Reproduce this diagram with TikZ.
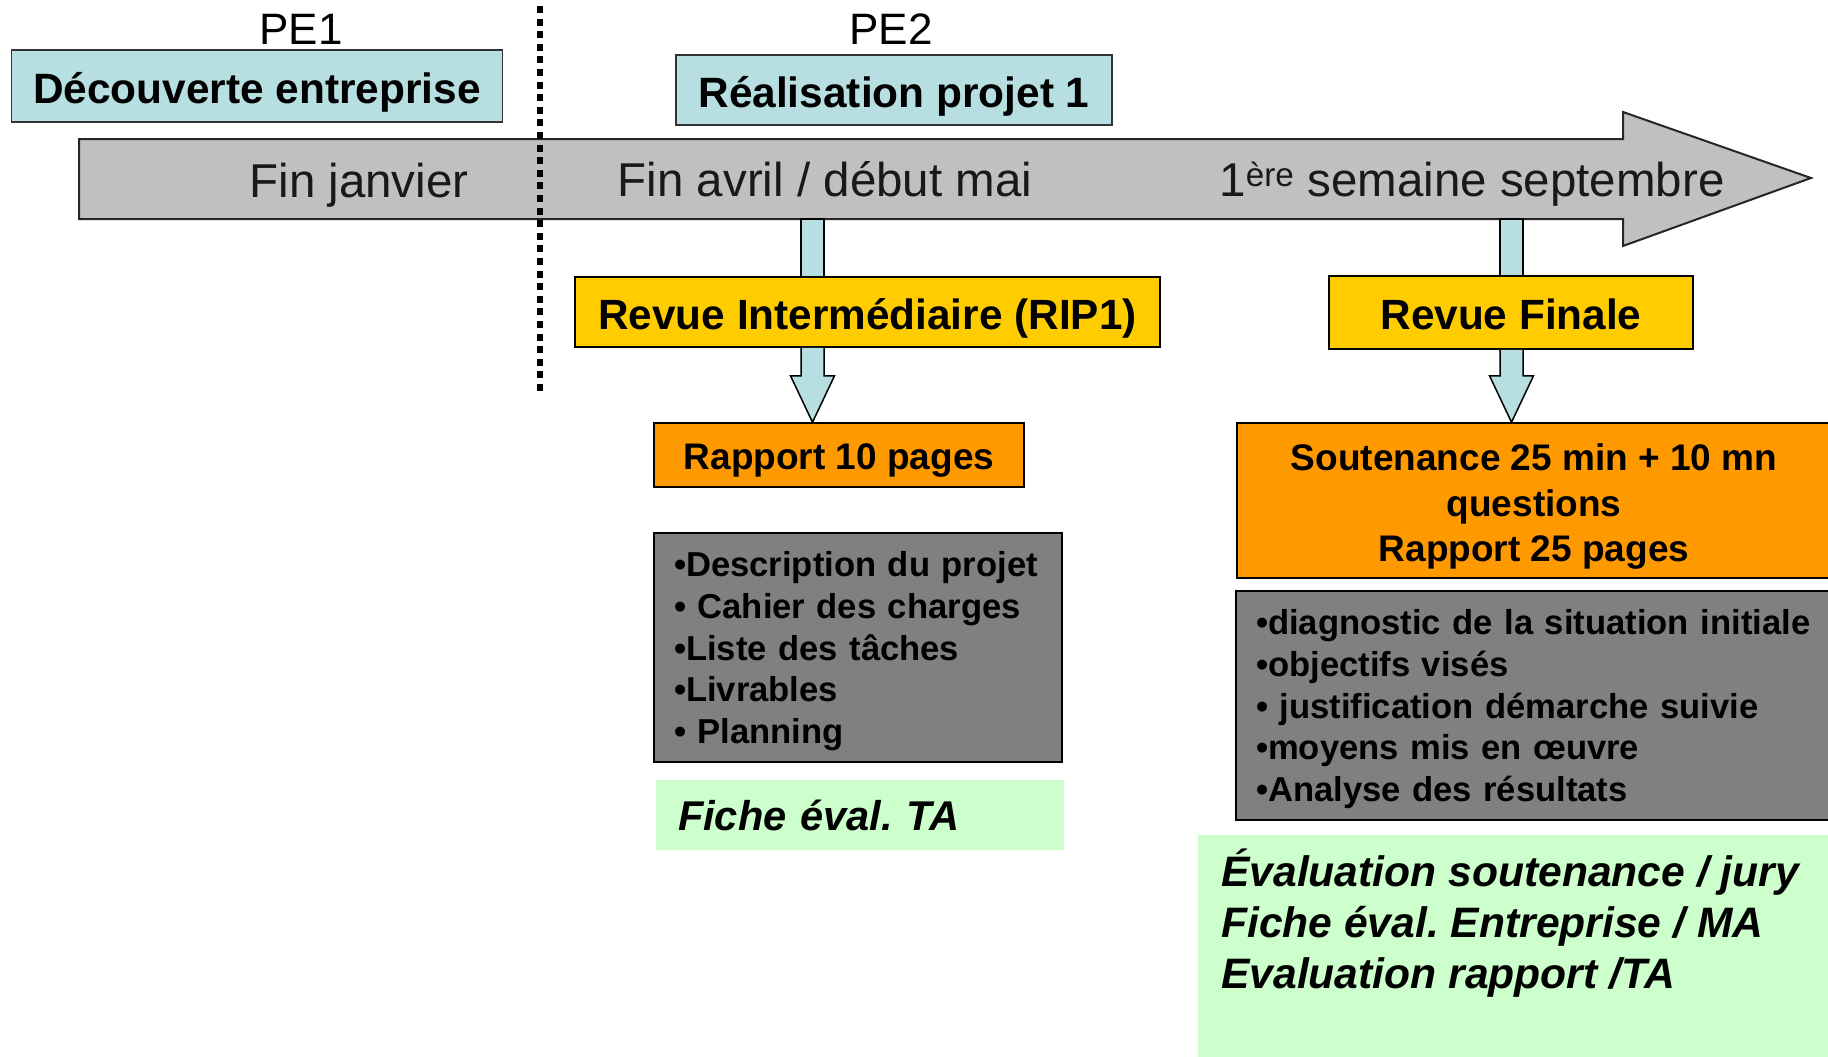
\documentclass[tikz,border=0pt]{standalone}
\usepackage{fontspec}
\setmainfont{Liberation Sans}
\usetikzlibrary{calc}
\definecolor{lblue}{HTML}{B7DEE0}
\definecolor{tlgray}{HTML}{C0C0C0}
\definecolor{ryellow}{HTML}{FFCC00}
\definecolor{rorange}{HTML}{FF9900}
\definecolor{dgray}{HTML}{808080}
\definecolor{egreen}{HTML}{CCFFCC}
\newcommand\fsz[2]{\fontsize{#1}{#2}\selectfont}
\frenchspacing
\begin{document}
\frenchspacing
\begin{tikzpicture}[x=1pt,y=-1pt,
  phasebox/.style={draw=black!80, line width=1.5pt, fill=lblue, inner sep=0pt, text height=34pt, text depth=0pt, font=\fsz{42.4}{50}\bfseries},
  pelabel/.style={inner sep=0pt, font=\fsz{44}{50}},
  datetext/.style={inner sep=0pt, font=\fsz{47.5}{56}, text=black!90},
  revuebox/.style={draw=black, line width=1.5pt, fill=ryellow, inner sep=0pt, text height=34pt, text depth=0pt, font=\fsz{42.3}{50}\bfseries},
  rapbox/.style={draw=black, line width=1.5pt, fill=rorange, inner sep=0pt, font=\fsz{37}{45.5}\bfseries},
  listbox/.style={draw=black, line width=2pt, fill=dgray, inner ysep=0pt, align=left, font=\fsz{34.6}{41.7}\bfseries},
  evalbox/.style={fill=egreen, inner ysep=0pt, align=left, font=\fsz{41.6}{50}\bfseries\itshape},
  conn/.style={draw=black, line width=1.5pt, fill=lblue, line join=miter}
]
\useasboundingbox (0,0) rectangle (1828,1057);
\clip (0,0) rectangle (1828,1057);
\fill[white] (0,0) rectangle (1828,1057);

% phase boxes
\node[pelabel, anchor=base] (pe1) at (301,45) {PE1};
\node[phasebox, minimum width=491pt, minimum height=72pt] (pe1box) at (257,86) {Découverte entreprise};
\node[pelabel, anchor=base] (pe2) at (891,45) {PE2};
\node[phasebox, minimum width=436pt, minimum height=70pt] (pe2box) at (894,90) {Réalisation projet 1};

% timeline arrow
\draw[line width=2pt, draw=black!85, fill=tlgray, line join=miter]
  (79,139) -- (1623,139) -- (1623,112) -- (1811,178) -- (1623,246) -- (1623,219) -- (79,219) -- cycle;
\node[datetext, anchor=base] (d1) at (359,197) {Fin janvier};
\node[datetext, anchor=base] (d2) at (825,196) {Fin avril / début mai};
\node[datetext, anchor=base] (d3) at (1472,196) {1\textsuperscript{ère} semaine septembre};

% separator
\draw[line width=5.7pt, dash pattern=on 7pt off 5.6pt] (540,6) -- (540,394);

\coordinate (t1) at (812.5,219);
\coordinate (t2) at (1511.5,219);

% reviews
\node[revuebox, minimum width=585pt, minimum height=70pt] (rip) at (867.5,312) {Revue Intermédiaire (RIP1)};
\node[revuebox, minimum width=364pt, minimum height=73pt] (rf) at (1511,312.5) {Revue Finale};

\draw[conn] ($(t1)+(-11.5,0)$) rectangle ($(t1 |- rip.north)+(11.5,0)$);
\draw[conn] ($(t2)+(-11.5,0)$) rectangle ($(t2 |- rf.north)+(11.5,0)$);
\node[revuebox, minimum width=585pt, minimum height=70pt] at (rip) {Revue Intermédiaire (RIP1)};
\node[revuebox, minimum width=364pt, minimum height=73pt] at (rf) {Revue Finale};

% deliverables
\node[rapbox, text height=29.6pt, text depth=0pt, minimum width=370pt, minimum height=64pt] (rap1) at (839,455) {Rapport 10 pages};
\node[rapbox, minimum width=594pt, minimum height=155pt, align=center] (sout) at (1534,500.5)
  {\rule{0pt}{39pt}Soutenance 25 min + 10 mn\\questions\\Rapport 25 pages};

\draw[conn] ($(t1|-rip.south)+(-11.5,0)$) -- ($(t1|-rip.south)+(-11.5,28)$) -- ($(t1|-rip.south)+(-22,28)$)
  -- (t1|-rap1.north) -- ($(t1|-rip.south)+(22,28)$) -- ($(t1|-rip.south)+(11.5,28)$) -- ($(t1|-rip.south)+(11.5,0)$);
\draw[conn] ($(t2|-rf.south)+(-11.5,0)$) -- ($(t2|-rf.south)+(-11.5,26)$) -- ($(t2|-rf.south)+(-22,26)$)
  -- (t2|-sout.north) -- ($(t2|-rf.south)+(22,26)$) -- ($(t2|-rf.south)+(11.5,26)$) -- ($(t2|-rf.south)+(11.5,0)$);

% content lists
\node[listbox, minimum height=229pt, text width=368pt, inner xsep=20pt] (list1) at (858,647.5)
  {\rule{0pt}{32.5pt}•Description du projet\\• Cahier des charges\\•Liste des tâches\\•Livrables\\• Planning};
\node[listbox, minimum height=229pt, text width=564pt, inner xsep=20pt] (list2) at (1538,705.5)
  {\rule{0pt}{32.5pt}•diagnostic de la situation initiale\\•objectifs visés\\• justification démarche suivie\\•moyens mis en œuvre\\•Analyse des résultats};

% evaluations
\node[evalbox, minimum height=70pt, text width=364pt, inner xsep=22pt] (ev1) at (860,815) {Fiche éval. TA};
\node[fill=egreen, minimum width=660pt, minimum height=240pt, anchor=north west, inner sep=0pt] (ev2box) at (1198,835) {};
\node[inner sep=0pt, align=left, anchor=west, font=\fsz{42.6}{51.3}\bfseries\itshape] (ev2) at (1221,923)
  {Évaluation soutenance / jury\\Fiche éval. Entreprise / MA\\Evaluation rapport /TA};
\end{tikzpicture}
\end{document}
